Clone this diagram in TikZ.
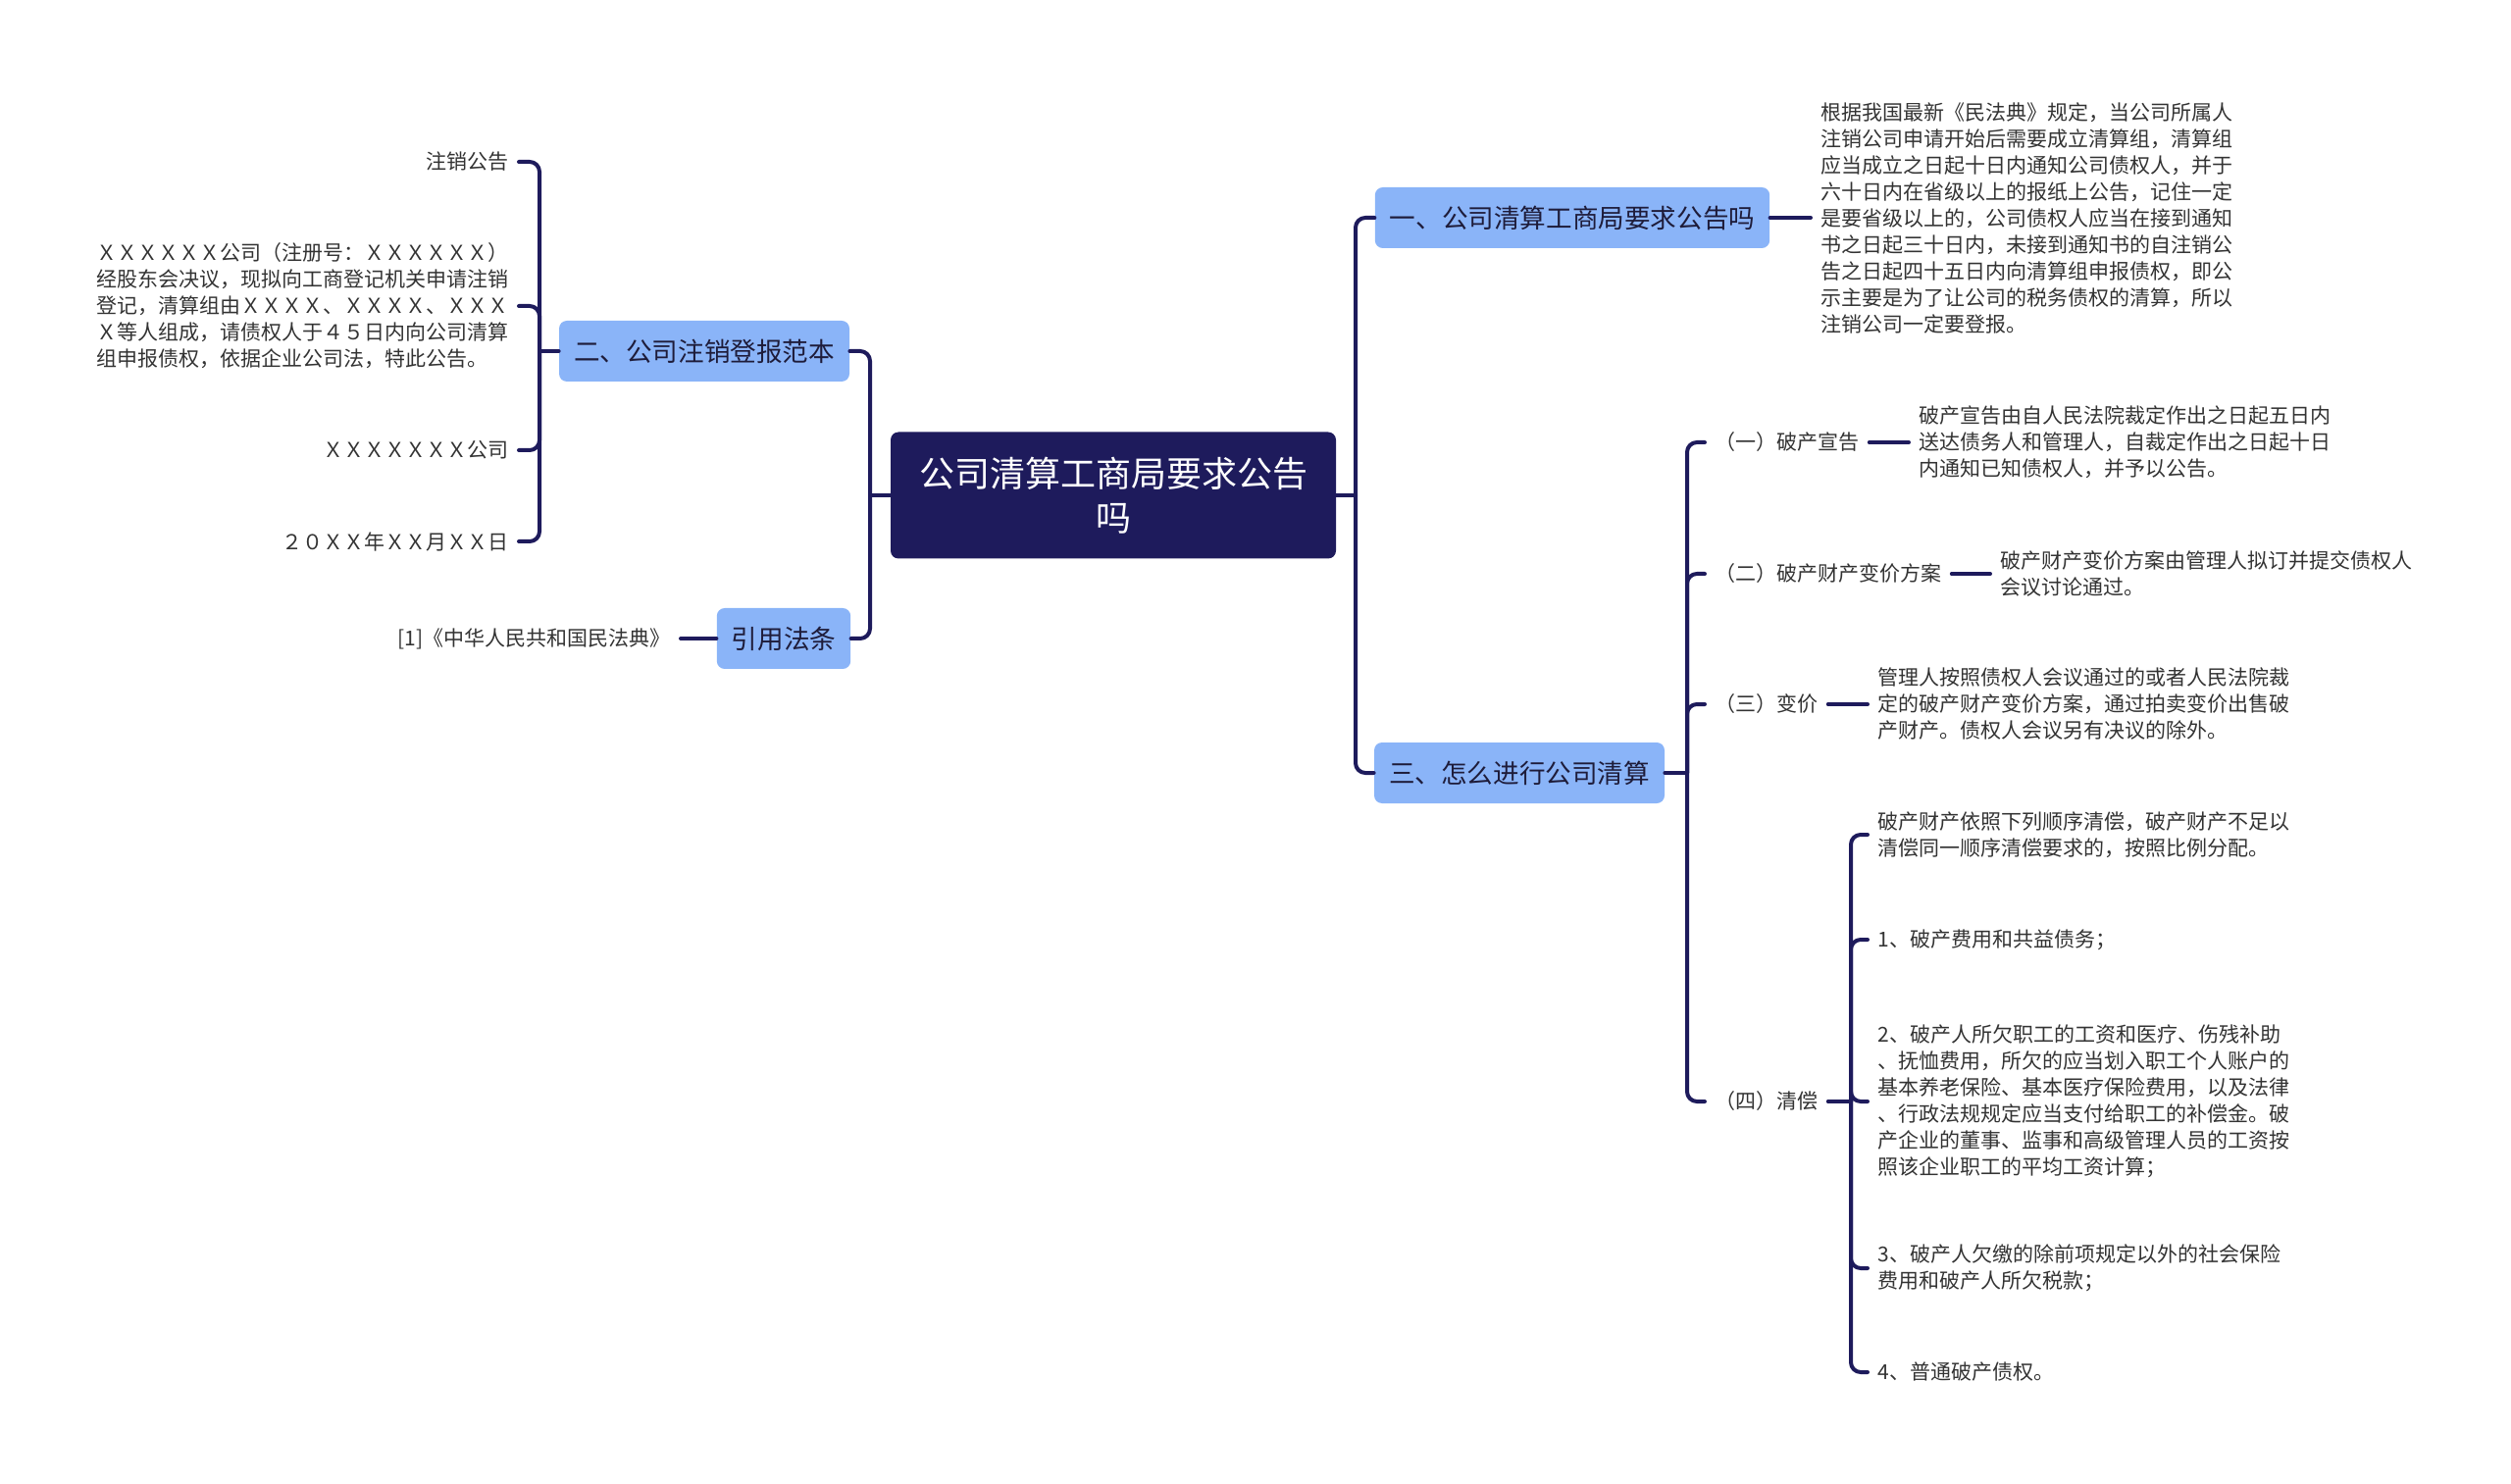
\documentclass[tikz,border=0pt]{standalone}
\usepackage{fontspec}
\setmainfont{Noto Sans CJK SC}
\definecolor{navy}{HTML}{1E1B5C}
\definecolor{sky}{HTML}{8AB4F8}
\definecolor{ink}{HTML}{1E1C3A}
\definecolor{txt}{HTML}{333333}
\begin{document}
\begin{tikzpicture}[x=0.5pt, y=-0.5pt, line join=round, line cap=round,
  rootbox/.style={fill=navy, text=white, rounded corners=4pt, inner sep=0pt,
    minimum width=227pt, minimum height=64.5pt, align=center,
    font=\fontsize{18}{22.5}\selectfont},
  subbox/.style={fill=sky, text=ink, rounded corners=4pt, inner xsep=7.5pt,
    minimum height=31pt, font=\fontsize{13.3}{16}\selectfont},
  leaf/.style={text=txt, inner xsep=5pt, inner ysep=2pt, align=left,
    font=\fontsize{10.5}{13.5}\selectfont},
  link/.style={draw=navy, line width=2pt, rounded corners=5pt}]
\useasboundingbox (0,0) rectangle (2560,1513);
% centre and main branches
\node[rootbox] (root) at (1135,505) {公司清算工商局要求公告\\吗};
\node[subbox] (sec1) at (1603,222) {一、公司清算工商局要求公告吗};
\node[subbox] (sec2) at (718,358) {二、公司注销登报范本};
\node[subbox] (sec3) at (1549,788) {三、怎么进行公司清算};
\node[subbox] (refs) at (799,651) {引用法条};
% left leaves
\node[leaf, anchor=east] (n1) at (529,165) {注销公告};
\node[leaf, anchor=east] (n2) at (529,312) {ＸＸＸＸＸＸ公司（注册号：ＸＸＸＸＸＸ）\\经股东会决议，现拟向工商登记机关申请注销\\登记，清算组由ＸＸＸＸ、ＸＸＸＸ、ＸＸＸ\\Ｘ等人组成，请债权人于４５日内向公司清算\\组申报债权，依据企业公司法，特此公告。};
\node[leaf, anchor=east] (n3) at (529,459) {ＸＸＸＸＸＸＸ公司};
\node[leaf, anchor=east] (n4) at (529,552) {２０ＸＸ年ＸＸ月ＸＸ日};
\node[leaf, anchor=east] (law) at (694,651) {[1]《中华人民共和国民法典》};
% right leaves
\node[leaf, anchor=west] (why) at (1846,222) {根据我国最新《民法典》规定，当公司所属人\\注销公司申请开始后需要成立清算组，清算组\\应当成立之日起十日内通知公司债权人，并于\\六十日内在省级以上的报纸上公告，记住一定\\是要省级以上的，公司债权人应当在接到通知\\书之日起三十日内，未接到通知书的自注销公\\告之日起四十五日内向清算组申报债权，即公\\示主要是为了让公司的税务债权的清算，所以\\注销公司一定要登报。};
\node[leaf, anchor=west] (s1) at (1738,451) {（一）破产宣告};
\node[leaf, anchor=west] (s2) at (1738,585) {（二）破产财产变价方案};
\node[leaf, anchor=west] (s3) at (1738,718) {（三）变价};
\node[leaf, anchor=west] (s4) at (1738,1123) {（四）清偿};
\node[leaf, anchor=west] (t1) at (1946,451) {破产宣告由自人民法院裁定作出之日起五日内\\送达债务人和管理人，自裁定作出之日起十日\\内通知已知债权人，并予以公告。};
\node[leaf, anchor=west] (t2) at (2029,585) {破产财产变价方案由管理人拟订并提交债权人\\会议讨论通过。};
\node[leaf, anchor=west] (t3) at (1904,718) {管理人按照债权人会议通过的或者人民法院裁\\定的破产财产变价方案，通过拍卖变价出售破\\产财产。债权人会议另有决议的除外。};
\node[leaf, anchor=west] (q0) at (1904,851) {破产财产依照下列顺序清偿，破产财产不足以\\清偿同一顺序清偿要求的，按照比例分配。};
\node[leaf, anchor=west] (q1) at (1904,958) {1、破产费用和共益债务；};
\node[leaf, anchor=west] (q2) at (1904,1123) {2、破产人所欠职工的工资和医疗、伤残补助\\、抚恤费用，所欠的应当划入职工个人账户的\\基本养老保险、基本医疗保险费用，以及法律\\、行政法规规定应当支付给职工的补偿金。破\\产企业的董事、监事和高级管理人员的工资按\\照该企业职工的平均工资计算；};
\node[leaf, anchor=west] (q3) at (1904,1293) {3、破产人欠缴的除前项规定以外的社会保险\\费用和破产人所欠税款；};
\node[leaf, anchor=west] (q4) at (1904,1399) {4、普通破产债权。};
% spines
\coordinate (spL) at (887,505);
\coordinate (spR) at (1382,505);
\coordinate (sp2) at (550,358);
\coordinate (sp3) at (1720,788);
\coordinate (sp4) at (1887,1123);
% connectors
\draw[link] (root.west) -- (spL);
\foreach \n in {sec2,refs} \draw[link] (spL) |- (\n.east);
\draw[link] (root.east) -- (spR);
\foreach \n in {sec1,sec3} \draw[link] (spR) |- (\n.west);
\draw[link] (sec2.west) -- (sp2);
\foreach \n in {n1,n2,n3,n4} \draw[link] (sp2) |- (\n.east);
\draw[link] (refs.west) -- (law.east);
\draw[link] (sec1.east) -- (why.west);
\draw[link] (sec3.east) -- (sp3);
\foreach \n in {s1,s2,s3,s4} \draw[link] (sp3) |- (\n.west);
\draw[link] (s1.east) -- (t1.west);
\draw[link] (s2.east) -- (t2.west);
\draw[link] (s3.east) -- (t3.west);
\draw[link] (s4.east) -- (sp4);
\foreach \n in {q0,q1,q2,q3,q4} \draw[link] (sp4) |- (\n.west);
\end{tikzpicture}
\end{document}
